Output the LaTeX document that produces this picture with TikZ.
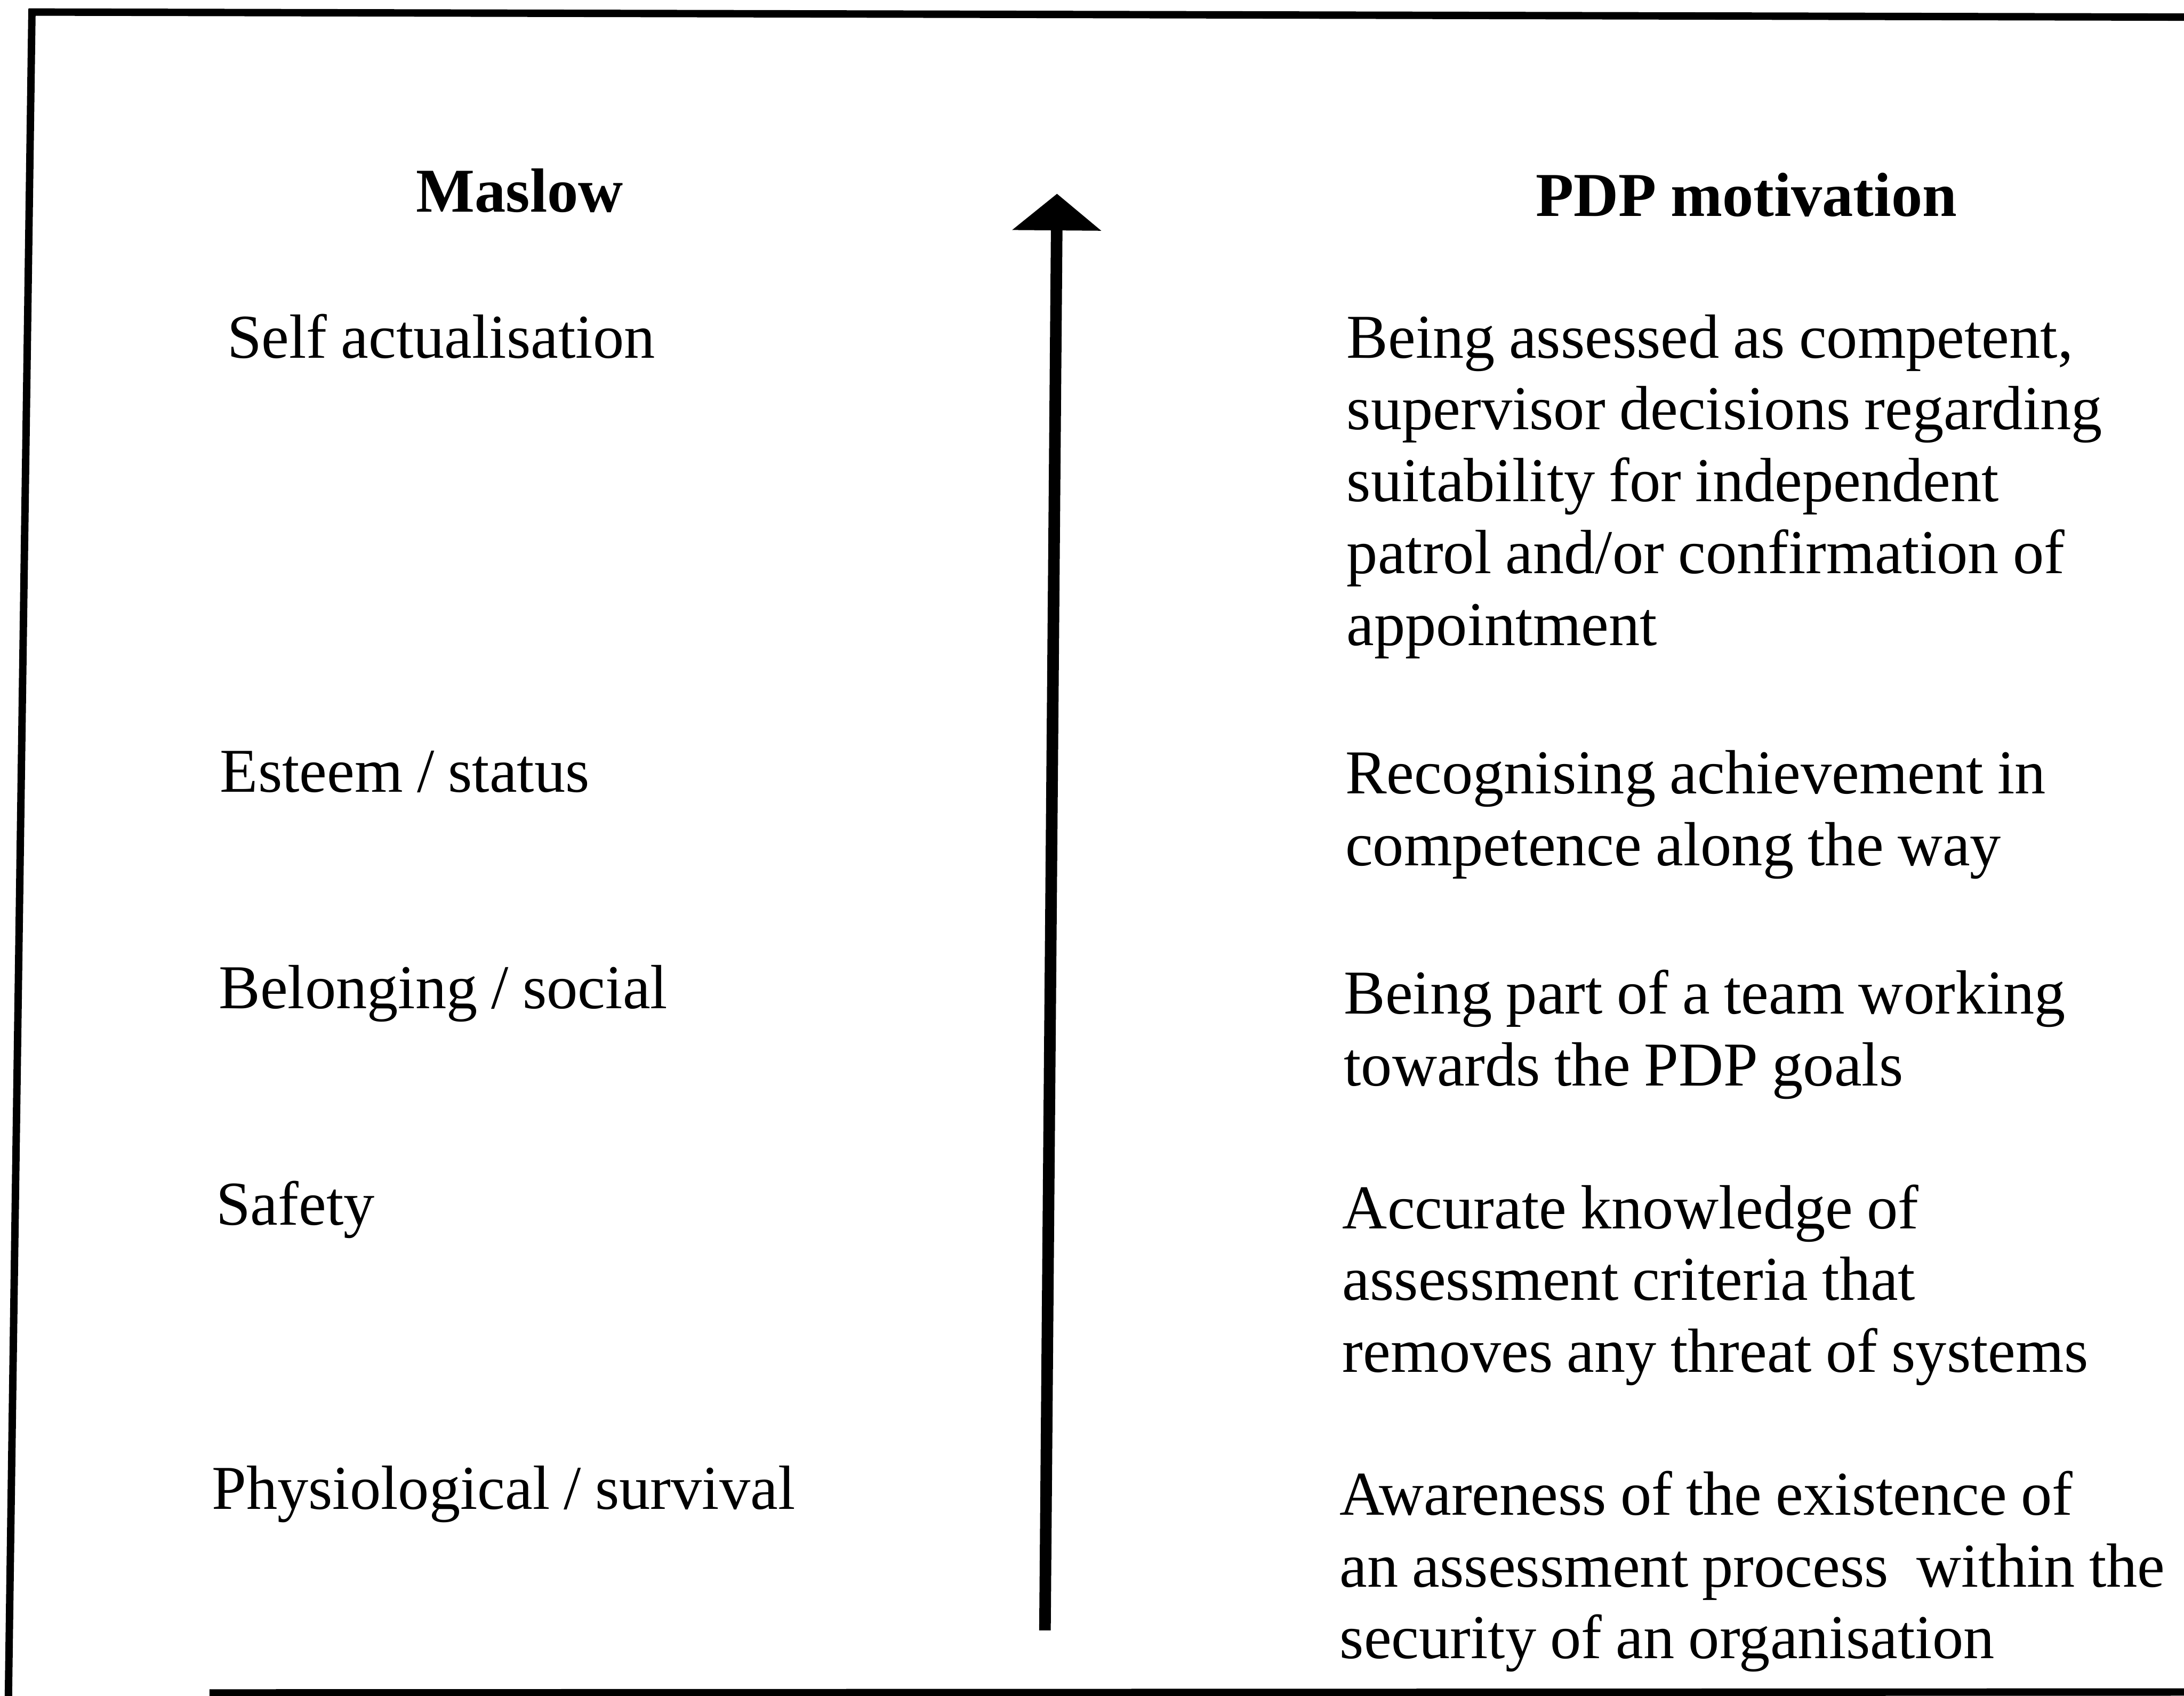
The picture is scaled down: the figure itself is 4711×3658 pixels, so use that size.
\documentclass[tikz,border=0pt]{standalone}
\usepackage{fontspec}
\setmainfont{Liberation Serif}[FakeStretch=0.995, WordSpace=0.9]
\usetikzlibrary{arrows.meta}
\newcommand{\lines}[1]{\begin{tabular}[t]{@{}l@{}}#1\end{tabular}}
\begin{document}
\begin{tikzpicture}[x=0.1mm, y=-0.1mm,
  frame/.style={line width=1.6mm, line cap=butt},
  body/.style={font=\fontsize{38.3pt}{44.1pt}\selectfont, inner sep=0pt, outer sep=0pt, anchor=base west},
  heading/.style={font=\fontsize{38.3pt}{44.1pt}\selectfont\bfseries, inner sep=0pt, anchor=base},
  rise/.style={line width=2.5mm, -{Triangle[length=7.9mm, width=18.8mm]}}]
\useasboundingbox (0,0) rectangle (4711,3658);

% open frame: top, left and bottom rules
\draw[frame] (62,26) -- (4730,37);
\draw[frame] (69,19) -- (18,3670);
\draw[frame] (452,3652) -- (4730,3650);

% column headings
\node[heading] (maslow) at (1121,457) {Maslow};
\node[heading] (pdp) at (3767,466) {PDP motivation};

% Maslow levels
\node[body] (selfact) at (490,772) {Self actualisation};
\node[body] (esteem) at (475,1709) {Esteem / status};
\node[body] (belong) at (472,2175) {Belonging / social};
\node[body] (safety) at (466,2643) {Safety};
\node[body] (physio) at (457,3256) {Physiological / survival};

% PDP counterparts
\node[body] (m1) at (2905,772) {\lines{Being assessed as competent,\\
supervisor decisions regarding\\
suitability for independent\\
patrol and/or confirmation of\\
appointment}};
\node[body] (m2) at (2902,1712) {\lines{Recognising achievement in\\
competence along the way}};
\node[body] (m3) at (2899,2187) {\lines{Being part of a team working\\
towards the PDP goals}};
\node[body] (m4) at (2896,2650) {\lines{Accurate knowledge of\\
assessment criteria that\\
removes any threat of systems}};
\node[body] (m5) at (2890,3268) {\lines{Awareness of the existence of\\
an assessment process~ within the\\
security of an organisation}};

% upward arrow between the columns
\coordinate (foot) at (2254,3517);
\coordinate (tip) at (2280,418);
\draw[rise] (foot) -- (tip);
\end{tikzpicture}
\end{document}
